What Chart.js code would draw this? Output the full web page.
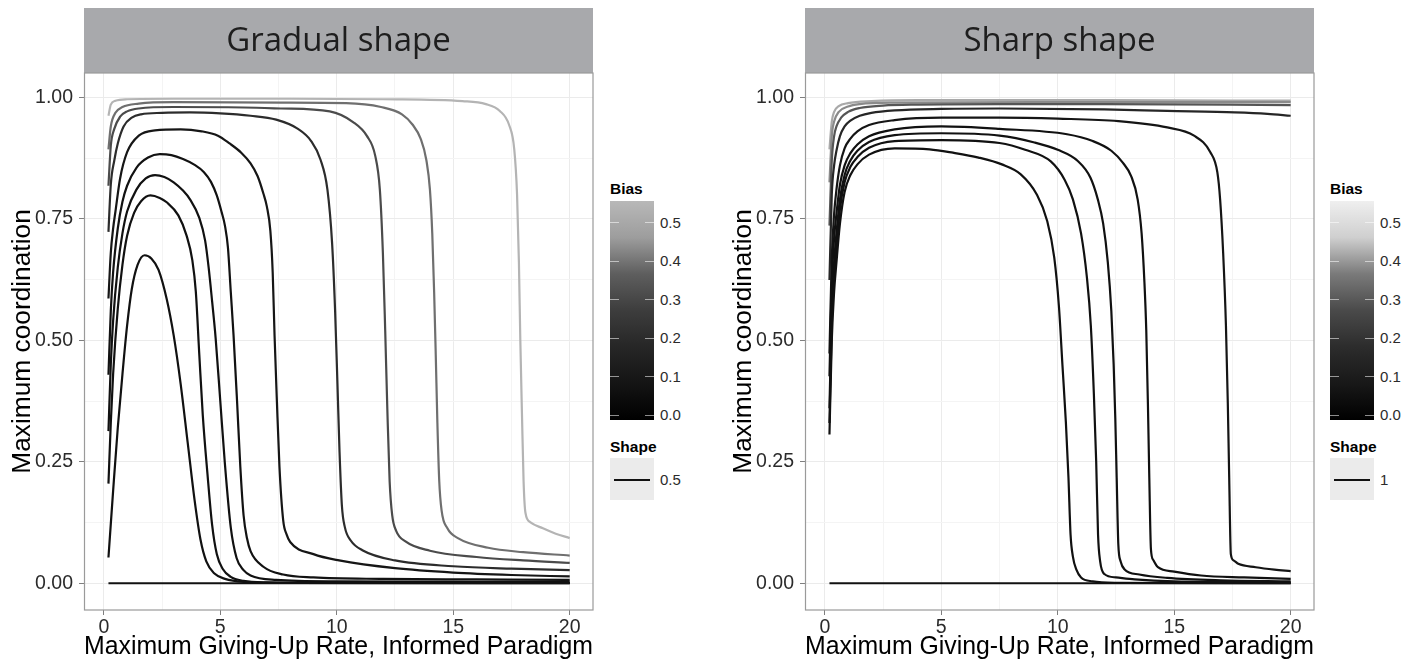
<!DOCTYPE html>
<html lang="en">
<head>
<meta charset="utf-8" />
<title>Maximum coordination by giving-up rate</title>
<script src="https://cdn.jsdelivr.net/npm/chart.js"></script>
<style>
  body { margin: 0; width: 1416px; height: 661px; background: #fff; position: relative; overflow: hidden; font-family: "Liberation Sans", Arial, sans-serif; }
  .panel { position: absolute; top: 0; width: 600px; height: 661px; }
  .lg { position: absolute; white-space: nowrap; }
  .lg-title { font-weight: bold; font-size: 15.5px; color: #000; line-height: 18px; }
  .lg-label { font-size: 15px; color: #2b2b2b; line-height: 16px; transform: translateY(-50%); }
</style>
</head>
<body>
<div class="panel" style="left:0px"><canvas id="gradual" width="600" height="661"></canvas></div>
<div class="panel" style="left:721px"><canvas id="sharp" width="600" height="661"></canvas></div>
<div id="legends"></div>
<script>
// axis breaks (major + minor grid)
var xMajor = [0, 5, 10, 15, 20];
var xBreaks = [0, 2.5, 5, 7.5, 10, 12.5, 15, 17.5, 20];
var yMajor = [0, 0.25, 0.5, 0.75, 1];
var yBreaks = [0, 0.125, 0.25, 0.375, 0.5, 0.625, 0.75, 0.875, 1];
var biasTicks = [0, 0.1, 0.2, 0.3, 0.4, 0.5];

// ---- Gradual shape curves, [giving-up rate, max coordination] ----
var gradZero = [[0.2, 0], [20, 0]];
var gradA = [[0.2,0.053],[0.4,0.19],[0.6,0.32],[0.8,0.43],[1.0,0.53],[1.2,0.605],[1.45,0.655],[1.75,0.675],[2.05,0.668],[2.35,0.645],[2.7,0.585],[3.0,0.51],[3.3,0.41],[3.6,0.29],[3.9,0.17],[4.15,0.09],[4.4,0.045],[4.75,0.02],[5.2,0.009],[6,0.003],[8,0.001],[20,0]];
var gradB = [[0.2,0.205],[0.3,0.33],[0.4,0.43],[0.6,0.565],[0.8,0.655],[1.0,0.715],[1.3,0.762],[1.6,0.786],[2.0,0.798],[2.4,0.793],[2.7,0.784],[3.2,0.757],[3.55,0.716],[3.8,0.665],[3.95,0.6],[4.1,0.47],[4.25,0.345],[4.45,0.225],[4.65,0.12],[4.85,0.06],[5.1,0.03],[5.45,0.013],[6,0.005],[7,0.002],[10,0.001],[20,0.001]];
var gradC = [[0.2,0.313],[0.3,0.45],[0.4,0.54],[0.6,0.65],[0.8,0.72],[1.0,0.765],[1.4,0.81],[1.8,0.833],[2.2,0.84],[2.6,0.836],[3.0,0.825],[3.4,0.808],[3.7,0.79],[4.1,0.752],[4.35,0.705],[4.5,0.65],[4.65,0.58],[4.8,0.505],[5.0,0.375],[5.2,0.245],[5.45,0.115],[5.7,0.052],[6.0,0.027],[6.3,0.016],[7.4,0.007],[10,0.004],[20,0.003]];
var gradD = [[0.2,0.429],[0.3,0.56],[0.4,0.64],[0.6,0.73],[0.8,0.785],[1.0,0.818],[1.4,0.855],[1.9,0.876],[2.4,0.883],[2.9,0.881],[3.4,0.873],[3.9,0.861],[4.3,0.846],[4.6,0.826],[4.85,0.798],[5.05,0.765],[5.2,0.736],[5.33,0.69],[5.45,0.6],[5.57,0.51],[5.72,0.375],[5.86,0.24],[6.0,0.14],[6.15,0.092],[6.3,0.066],[6.85,0.034],[7.7,0.018],[9,0.012],[12,0.009],[16,0.008],[20,0.007]];
var gradE = [[0.2,0.586],[0.3,0.68],[0.4,0.73],[0.5,0.765],[0.7,0.833],[1.0,0.887],[1.5,0.921],[2.2,0.932],[3.3,0.934],[4.2,0.93],[4.9,0.921],[5.4,0.905],[5.9,0.886],[6.3,0.864],[6.6,0.838],[6.85,0.802],[7.0,0.775],[7.15,0.725],[7.25,0.64],[7.33,0.51],[7.43,0.375],[7.54,0.24],[7.7,0.13],[7.85,0.1],[8.0,0.085],[9.0,0.06],[10.1,0.047],[12.5,0.031],[15,0.022],[17.5,0.017],[20,0.014]];
var gradF = [[0.2,0.723],[0.3,0.82],[0.45,0.87],[0.6,0.905],[0.85,0.94],[1.2,0.958],[1.6,0.965],[2.5,0.968],[3.7,0.969],[5.0,0.967],[6.3,0.962],[7.4,0.954],[8.3,0.936],[8.9,0.91],[9.3,0.872],[9.6,0.81],[9.8,0.7],[9.93,0.56],[10.03,0.41],[10.12,0.27],[10.22,0.16],[10.35,0.115],[10.6,0.088],[11.1,0.068],[12.5,0.047],[15,0.035],[17.5,0.03],[20,0.027]];
var gradG = [[0.2,0.818],[0.3,0.9],[0.45,0.935],[0.7,0.96],[1.0,0.971],[1.5,0.977],[3,0.98],[6,0.979],[7.6,0.977],[9.7,0.971],[10.7,0.949],[11.3,0.92],[11.65,0.88],[11.85,0.81],[11.98,0.68],[12.08,0.52],[12.17,0.36],[12.27,0.21],[12.38,0.14],[12.55,0.108],[12.95,0.086],[14,0.067],[16,0.054],[18,0.047],[20,0.042]];
var gradH = [[0.2,0.893],[0.3,0.94],[0.5,0.968],[0.8,0.98],[1.5,0.987],[3,0.99],[7.6,0.989],[10.4,0.988],[11.9,0.98],[12.8,0.965],[13.25,0.944],[13.6,0.915],[13.85,0.87],[14.0,0.81],[14.1,0.72],[14.18,0.6],[14.25,0.47],[14.32,0.33],[14.4,0.21],[14.5,0.15],[14.75,0.113],[15.2,0.093],[16.5,0.073],[18,0.064],[20,0.057]];
var gradI = [[0.2,0.962],[0.3,0.985],[0.5,0.993],[1,0.996],[3,0.997],[8,0.997],[12,0.996],[15.4,0.992],[16.4,0.986],[17.0,0.972],[17.4,0.943],[17.62,0.893],[17.74,0.8],[17.82,0.66],[17.88,0.5],[17.95,0.35],[18.02,0.21],[18.1,0.145],[18.3,0.126],[18.85,0.113],[19.4,0.102],[20,0.093]];

// ---- Sharp shape curves ----
var sharpZero = [[0.2, 0], [20, 0]];
var sharpA = [[0.2,0.306],[0.3,0.5],[0.4,0.6],[0.5,0.66],[0.65,0.74],[0.85,0.805],[1.1,0.84],[1.4,0.862],[1.9,0.882],[3,0.895],[4.5,0.893],[5.5,0.886],[6.6,0.876],[7.6,0.862],[8.4,0.842],[9.1,0.8],[9.55,0.745],[9.85,0.67],[10.05,0.57],[10.2,0.45],[10.35,0.33],[10.46,0.217],[10.55,0.1],[10.65,0.055],[10.8,0.028],[11.0,0.012],[11.5,0.004],[12.5,0.001],[20,0]];
var sharpB = [[0.2,0.33],[0.3,0.53],[0.4,0.63],[0.5,0.69],[0.65,0.77],[0.85,0.825],[1.1,0.857],[1.4,0.877],[1.9,0.896],[3,0.91],[5,0.912],[7.5,0.906],[8.6,0.892],[9.7,0.868],[10.3,0.83],[10.65,0.79],[11.0,0.72],[11.25,0.63],[11.42,0.53],[11.55,0.39],[11.65,0.25],[11.73,0.1],[11.82,0.045],[12.0,0.019],[12.5,0.012],[13.3,0.008],[15,0.004],[20,0.002]];
var sharpC = [[0.2,0.36],[0.3,0.56],[0.4,0.66],[0.5,0.72],[0.65,0.79],[0.85,0.84],[1.1,0.87],[1.4,0.89],[1.9,0.908],[3,0.922],[5,0.926],[7.5,0.921],[9,0.907],[10,0.892],[10.86,0.869],[11.4,0.835],[11.72,0.79],[11.95,0.74],[12.15,0.66],[12.3,0.56],[12.4,0.45],[12.47,0.34],[12.53,0.217],[12.6,0.08],[12.7,0.045],[12.86,0.029],[13.5,0.018],[14.7,0.011],[17,0.006],[20,0.004]];
var sharpD = [[0.2,0.426],[0.3,0.62],[0.4,0.71],[0.5,0.76],[0.65,0.82],[0.85,0.86],[1.1,0.885],[1.4,0.903],[1.9,0.92],[3,0.934],[5,0.94],[7.5,0.935],[10.4,0.924],[11.5,0.91],[12.3,0.89],[12.8,0.865],[13.15,0.838],[13.43,0.79],[13.6,0.72],[13.72,0.62],[13.8,0.52],[13.87,0.37],[13.93,0.217],[14.0,0.07],[14.1,0.048],[14.3,0.033],[15,0.024],[16.15,0.016],[18,0.012],[20,0.009]];
var sharpE = [[0.2,0.473],[0.3,0.67],[0.4,0.76],[0.5,0.81],[0.65,0.86],[0.85,0.895],[1.1,0.915],[1.4,0.93],[1.9,0.943],[3,0.953],[5,0.958],[7.5,0.958],[10,0.956],[12.6,0.951],[14.7,0.938],[15.85,0.921],[16.55,0.887],[16.85,0.846],[16.97,0.79],[17.1,0.68],[17.22,0.53],[17.3,0.37],[17.36,0.217],[17.43,0.06],[17.55,0.047],[17.75,0.04],[18.5,0.033],[19.3,0.028],[20,0.025]];
var sharpF = [[0.2,0.624],[0.3,0.8],[0.4,0.86],[0.5,0.89],[0.65,0.92],[0.85,0.94],[1.1,0.952],[1.5,0.962],[2,0.968],[3,0.973],[5,0.976],[7.5,0.977],[12,0.975],[14.7,0.972],[17.6,0.969],[19,0.966],[20,0.962]];
var sharpG = [[0.2,0.736],[0.3,0.87],[0.4,0.92],[0.5,0.94],[0.7,0.958],[1,0.97],[1.5,0.978],[2.5,0.983],[4,0.985],[7.5,0.986],[12,0.986],[20,0.984]];
var sharpH = [[0.2,0.825],[0.3,0.92],[0.4,0.95],[0.6,0.97],[1,0.981],[1.5,0.986],[3,0.989],[10,0.99],[20,0.99]];
var sharpI = [[0.2,0.893],[0.3,0.95],[0.4,0.97],[0.6,0.982],[1,0.988],[2,0.992],[4,0.994],[12,0.994],[20,0.993]];

var gradualCurves = [gradZero, gradA, gradB, gradC, gradD, gradE, gradF, gradG, gradH, gradI];
var gradualColours = ['#111', '#111', '#111', '#111', '#121212', '#161616', '#2c2c2c', '#4b4b4b', '#6f6f6f', '#b4b4b4'];
var sharpCurves = [sharpZero, sharpA, sharpB, sharpC, sharpD, sharpE, sharpF, sharpG, sharpH, sharpI];
var sharpColours = ['#111', '#111', '#111', '#111', '#111', '#151515', '#262626', '#555555', '#8a8a8a', '#a9a9a9'];

// colourbar gradients (bottom -> top)
var gradualBar = ['#000000', '#141414', '#262626', '#3d3d3d', '#5e5e5e', '#9d9d9d', '#b8b8b8'];
var sharpBar = ['#000000', '#181818', '#2c2c2c', '#4a4a4a', '#7a7a7a', '#cfcfcf', '#efefef'];

var panelDecor = {
  id: 'panelDecor',
  beforeDraw: function (chart) {
    var a = chart.chartArea, ctx = chart.ctx;
    ctx.save();
    ctx.fillStyle = '#a8a9ac';
    ctx.fillRect(a.left, 8, a.right - a.left, a.top - 8);
    ctx.fillStyle = '#1e1e1e';
    ctx.font = '33px "Open Sans"';
    ctx.textAlign = 'center';
    ctx.textBaseline = 'middle';
    ctx.fillText(chart.options.plugins.panelDecor.strip, (a.left + a.right) / 2, (8 + a.top) / 2 + 1);
    ctx.restore();
  },
  afterDraw: function (chart) {
    var a = chart.chartArea, ctx = chart.ctx;
    ctx.save();
    ctx.strokeStyle = '#9a9a9a';
    ctx.lineWidth = 1.2;
    ctx.strokeRect(a.left + 0.5, a.top, a.right - a.left - 0.5, a.bottom - a.top);
    ctx.restore();
  }
};

function isIn(list, v) {
  return list.some(function (m) { return Math.abs(m - v) < 1e-9; });
}

function makePanel(id, strip, curves, colours) {
  var datasets = curves.map(function (c, i) {
    return {
      data: c.map(function (p) { return { x: p[0], y: p[1] }; }),
      borderColor: colours[i],
      borderWidth: 2.2,
      pointRadius: 0,
      fill: false,
      cubicInterpolationMode: 'monotone'
    };
  });
  return new Chart(document.getElementById(id), {
    type: 'line',
    data: { datasets: datasets },
    plugins: [panelDecor],
    options: {
      responsive: false,
      animation: false,
      layout: { padding: { top: 73, right: 7, bottom: 0, left: 0 } },
      plugins: { legend: { display: false }, tooltip: { enabled: false }, panelDecor: { strip: strip } },
      scales: {
        x: {
          type: 'linear', min: -0.85, max: 21,
          afterBuildTicks: function (s) { s.ticks = xBreaks.map(function (v) { return { value: v }; }); },
          afterFit: function (s) { s.height = 51; },
          ticks: {
            autoSkip: false, maxRotation: 0, padding: 1, color: '#2b2b2b',
            font: { family: 'Liberation Sans', size: 19.5 },
            callback: function (v) { return isIn(xMajor, v) ? String(v) : ''; }
          },
          grid: {
            tickLength: 5,
            color: function (c) { return isIn(xMajor, c.tick.value) ? '#ebebeb' : '#f4f4f4'; },
            tickColor: function (c) { return isIn(xMajor, c.tick.value) ? '#7f7f7f' : 'rgba(0,0,0,0)'; }
          },
          border: { display: false },
          title: { display: true, text: 'Maximum Giving-Up Rate, Informed Paradigm', color: '#000',
                   font: { family: 'Liberation Sans', size: 26.3, lineHeight: 1.1 }, padding: { top: 0, bottom: 0 } }
        },
        y: {
          type: 'linear', min: -0.055, max: 1.05,
          afterBuildTicks: function (s) { s.ticks = yBreaks.map(function (v) { return { value: v }; }); },
          afterFit: function (s) { s.width = 84; },
          ticks: {
            autoSkip: false, padding: 6, color: '#2b2b2b',
            font: { family: 'Liberation Sans', size: 19.5 },
            callback: function (v) { return isIn(yMajor, v) ? v.toFixed(2) : ''; }
          },
          grid: {
            tickLength: 5,
            color: function (c) { return isIn(yMajor, c.tick.value) ? '#ebebeb' : '#f4f4f4'; },
            tickColor: function (c) { return isIn(yMajor, c.tick.value) ? '#7f7f7f' : 'rgba(0,0,0,0)'; }
          },
          border: { display: false },
          title: { display: true, text: 'Maximum coordination', color: '#000',
                   font: { family: 'Liberation Sans', size: 26.3, lineHeight: 1.1 }, padding: { top: 8, bottom: 0 } }
        }
      }
    }
  });
}

makePanel('gradual', 'Gradual shape', gradualCurves, gradualColours);
makePanel('sharp', 'Sharp shape', sharpCurves, sharpColours);

// legends: colourbar for Bias and key for Shape
function addLegend(x0, barStops, shapeLabel) {
  var host = document.getElementById('legends');
  var barTop = 201, barBottom = 420, zeroY = 415, perUnit = 385;
  var html = '';
  html += '<div class="lg lg-title" style="left:' + x0 + 'px;top:180px">Bias</div>';
  html += '<div class="lg" style="left:' + x0 + 'px;top:' + barTop + 'px;width:44px;height:' + (barBottom - barTop) +
          'px;background:linear-gradient(to top,' + barStops.join(',') + ')"></div>';
  biasTicks.forEach(function (v) {
    var y = zeroY - v * perUnit;
    html += '<div class="lg" style="left:' + x0 + 'px;top:' + (y - 0.5) + 'px;width:9px;height:1px;background:rgba(255,255,255,0.55)"></div>';
    html += '<div class="lg" style="left:' + (x0 + 35) + 'px;top:' + (y - 0.5) + 'px;width:9px;height:1px;background:rgba(255,255,255,0.55)"></div>';
    html += '<div class="lg lg-label" style="left:' + (x0 + 50) + 'px;top:' + y + 'px">' + v.toFixed(1) + '</div>';
  });
  html += '<div class="lg lg-title" style="left:' + x0 + 'px;top:438px">Shape</div>';
  html += '<div class="lg" style="left:' + x0 + 'px;top:458px;width:44px;height:42px;background:#ebebeb"></div>';
  html += '<div class="lg" style="left:' + (x0 + 4) + 'px;top:479px;width:36px;height:2px;background:#111"></div>';
  html += '<div class="lg lg-label" style="left:' + (x0 + 50) + 'px;top:480px">' + shapeLabel + '</div>';
  host.insertAdjacentHTML('beforeend', html);
}
addLegend(610, gradualBar, '0.5');
addLegend(1330, sharpBar, '1');
</script>
</body>
</html>
